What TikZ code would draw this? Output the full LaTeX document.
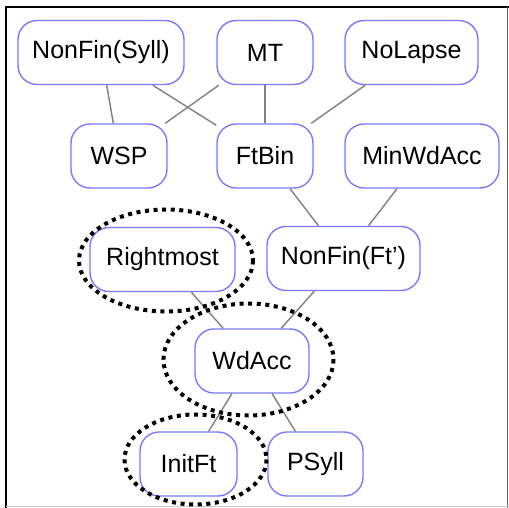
\documentclass[tikz,border=0pt]{standalone}
\usepackage{fontspec}
\setmainfont{Liberation Sans}
\begin{document}
\begin{tikzpicture}[x=1pt,y=-1pt,
  box/.style={draw=boxblue, line width=1.4pt, fill=white, rounded corners=19pt,
    minimum height=64pt, inner sep=0pt, font=\fontsize{25}{29}\selectfont},
  link/.style={draw=linkgray, line width=1.4pt},
  focus/.style={draw=black, line width=4pt, dash pattern=on 4pt off 4.6pt}]
\definecolor{boxblue}{RGB}{122,122,255}
\definecolor{linkgray}{RGB}{128,128,128}
\useasboundingbox (0,0) rectangle (509,508);
% frame
\draw[line width=2pt] (6,508) -- (6,7) -- (509,7);
\draw[line width=1pt, black!60] (507,7) -- (507,508);
\draw[line width=1.2pt, black!20] (6,506.5) -- (509,506.5);
% constraint nodes
\node[box, minimum width=166pt] (nfs) at (101,52.5) {NonFin(Syll)};
\node[box, minimum width=96pt] (mt) at (265,52.5) {MT};
\node[box, minimum width=133pt] (nol) at (411.5,52.5) {NoLapse};
\node[box, minimum width=96pt] (wsp) at (119,156) {WSP};
\node[box, minimum width=96pt] (ftb) at (265,156) {FtBin};
\node[box, minimum width=154pt] (mwa) at (422,156) {MinWdAcc};
\node[box, minimum width=145pt] (rm) at (162.5,259.5) {Rightmost};
\node[box, minimum width=153pt] (nff) at (343.5,258.5) {NonFin(Ft')};
\node[box, minimum width=114pt] (wda) at (252,361) {WdAcc};
\node[box, minimum width=97pt] (ift) at (188.5,464) {InitFt};
\node[box, minimum width=95pt] (psy) at (315.5,464) {PSyll};
% ranking links
\path[link] (nfs) -- (wsp);
\path[link] (nfs) -- (ftb);
\path[link] (mt) -- (wsp);
\path[link] (mt) -- (ftb);
\path[link] (nol) -- (ftb);
\path[link] (ftb) -- (nff);
\path[link] (mwa) -- (nff);
\path[link] (rm) -- (wda);
\path[link] (nff) -- (wda);
\path[link] (wda) -- (ift);
\path[link] (wda) -- (psy);
% highlighted constraints
\draw[focus] (166,260.5) ellipse [x radius=87, y radius=51];
\draw[focus] (248.5,359.5) ellipse [x radius=85, y radius=56];
\draw[focus] (195.5,459.5) ellipse [x radius=71, y radius=45];
\end{tikzpicture}
\end{document}
